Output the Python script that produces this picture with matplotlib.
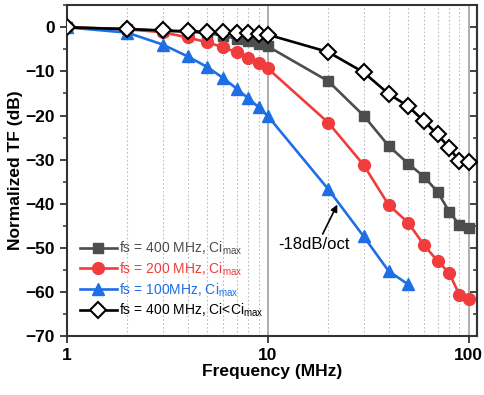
import numpy as np
import matplotlib
matplotlib.use("Agg")
import matplotlib.pyplot as plt
from matplotlib.ticker import LogLocator, NullFormatter, MultipleLocator

plt.rcParams['font.family'] = ['Liberation Sans', 'DejaVu Sans']

# frequency points (MHz)
freq_full = [1, 2, 3, 4, 5, 6, 7, 8, 9, 10, 20, 30, 40, 50, 60, 70, 80, 90, 100]
freq_100 = [1, 2, 3, 4, 5, 6, 7, 8, 9, 10, 20, 30, 40, 50]

tf_400 = [0, -0.4, -0.8, -1.0, -1.3, -1.9, -2.6, -3.2, -3.7, -4.3,
          -12.2, -20.0, -26.9, -30.9, -33.9, -37.3, -41.8, -44.8, -45.6]
tf_200 = [0, -0.45, -1.1, -2.3, -3.4, -4.5, -5.7, -6.9, -8.1, -9.3,
          -21.6, -31.2, -40.3, -44.3, -49.4, -53.0, -55.7, -60.7, -61.6]
tf_100 = [0, -1.2, -3.9, -6.6, -9.0, -11.5, -13.9, -16.1, -18.1, -20.1,
          -36.7, -47.4, -55.3, -58.3]
tf_400_lowci = [0, -0.4, -0.7, -0.9, -1.0, -1.1, -1.2, -1.3, -1.4, -1.65,
                -5.6, -10.2, -15.1, -17.9, -21.3, -24.3, -27.3, -30.4, -30.5]

c_gray = '#4d4d4d'
c_red = '#f03c3c'
c_blue = '#1e6fe6'
c_black = '#000000'

fig = plt.figure(figsize=(4.84, 3.95), dpi=100)
ax = fig.add_axes([0.138, 0.1494, 0.8475, 0.8372])

lw = 1.9
ax.plot(freq_full, tf_400, color=c_gray, lw=lw, marker='s', ms=7.5,
        label=r'fs = 400 MHz, Ci$_{\mathregular{max}}$', zorder=3)
ax.plot(freq_full, tf_200, color=c_red, lw=lw, marker='o', ms=8.5,
        label=r'fs = 200 MHz, Ci$_{\mathregular{max}}$', zorder=3)
ax.plot(freq_100, tf_100, color=c_blue, lw=lw, marker='^', ms=9,
        label=r'fs = 100MHz, Ci$_{\mathregular{max}}$', zorder=3)
ax.plot(freq_full, tf_400_lowci, color=c_black, lw=lw, marker='D', ms=8,
        mfc='white', mec='black', mew=1.5,
        label=r'fs = 400 MHz, Ci<Ci$_{\mathregular{max}}$', zorder=4)

ax.set_xscale('log')
ax.set_xlim(1, 110)
ax.set_ylim(-70, 5)

# grid: solid at decades, dotted at minor
ax.xaxis.set_minor_locator(LogLocator(base=10, subs=np.arange(2, 10)))
ax.xaxis.set_minor_formatter(NullFormatter())
ax.grid(which='major', axis='x', color='#a8a8a8', lw=1.3, ls='-')
ax.grid(which='minor', axis='x', color='#bdbdbd', lw=0.8, ls=(0, (1.5, 2)))
ax.set_axisbelow(True)

ax.set_xticks([1, 10, 100])
ax.set_xticklabels(['1', '10', '100'])
ax.yaxis.set_major_locator(MultipleLocator(10))
ax.yaxis.set_minor_locator(MultipleLocator(5))

for sp in ax.spines.values():
    sp.set_color('#333333')
    sp.set_linewidth(1.5)

ax.tick_params(axis='both', which='major', labelsize=12.5, length=5, width=1.3,
               color='#333333', direction='out')
ax.tick_params(axis='x', which='minor', length=0)
ax.tick_params(axis='y', which='minor', length=3, width=1.1, color='#333333',
               direction='out')
for lab in ax.get_xticklabels() + ax.get_yticklabels():
    lab.set_fontweight('bold')

# right-side inward ticks
ry = ax.secondary_yaxis('right')
ry.yaxis.set_major_locator(MultipleLocator(10))
ry.yaxis.set_minor_locator(MultipleLocator(5))
ry.tick_params(which='major', direction='in', length=5, width=1.3, color='#333333',
               labelright=False)
ry.tick_params(which='minor', direction='in', length=3, width=1.1, color='#333333')
ry.spines['right'].set_color('#333333')
ry.spines['right'].set_linewidth(1.5)

ax.set_xlabel('Frequency (MHz)', fontsize=12.5, fontweight='bold', labelpad=1)
ax.set_ylabel('Normalized TF (dB)', fontsize=12.5, fontweight='bold', labelpad=2)

ax.annotate('-18dB/oct', xy=(22.2, -40.2), xytext=(11.3, -49.2),
            fontsize=12, va='center', ha='left',
            arrowprops=dict(arrowstyle='-|>', color='black', lw=1.2,
                            mutation_scale=10, shrinkA=0, shrinkB=0,
                            relpos=(0.6, 1.0)))

leg = ax.legend(loc='lower left', bbox_to_anchor=(0.012, 0.025), frameon=False,
                fontsize=10, handlelength=2.65, handletextpad=0.15,
                labelspacing=0.25, borderaxespad=0.2)
for txt, line in zip(leg.get_texts(), leg.get_lines()):
    txt.set_color(line.get_color())

fig.savefig('out.png', dpi=100)
